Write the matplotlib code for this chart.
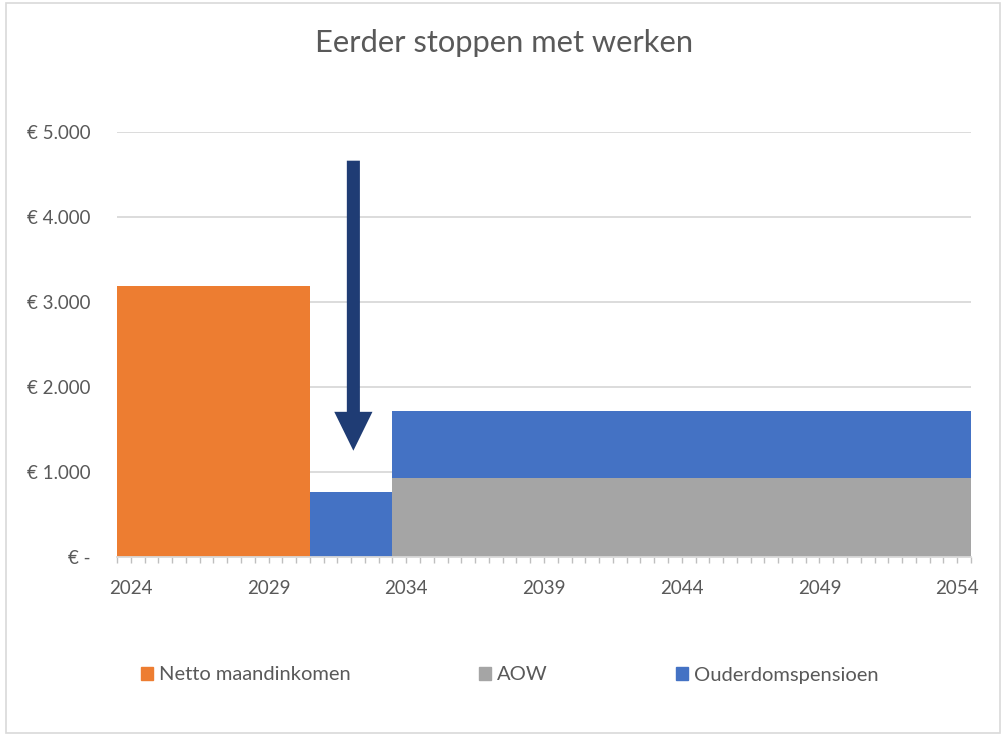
import matplotlib
matplotlib.use("Agg")
import matplotlib.pyplot as plt
from matplotlib.patches import Rectangle, Patch
from matplotlib.ticker import MultipleLocator

# ---- data ----
period_edges = [2023.5, 2030.5, 2033.5, 2054.5]   # half-year resolution periods
netto = [3190, 0, 0]          # Netto maandinkomen
aow = [0, 0, 937]             # AOW
pensioen = [0, 772, 784]      # Ouderdomspensioen
series_names = ["Netto maandinkomen", "AOW", "Ouderdomspensioen"]
x_labels = [2024, 2029, 2034, 2039, 2044, 2049, 2054]
y_ticks = [0, 1000, 2000, 3000, 4000, 5000]
y_labels = ["€ -", "€ 1.000", "€ 2.000", "€ 3.000", "€ 4.000", "€ 5.000"]
title = "Eerder stoppen met werken"

C_ORANGE = "#ED7D31"
C_GRAY = "#A5A5A5"
C_BLUE = "#4472C4"
C_ARROW = "#1F3C74"
TXT = "#595959"
GRID = "#D9D9D9"

plt.rcParams["font.family"] = ["Lato", "DejaVu Sans"]

W, H = 1003, 736
fig = plt.figure(figsize=(W / 100, H / 100), dpi=100)
fig.patches.append(Rectangle((6 / W, 3 / H), 994 / W, 730 / H, transform=fig.transFigure,
                             fill=False, edgecolor=GRID, linewidth=1.2))

ax = fig.add_axes([117 / W, (H - 557.3) / H, 854 / W, 425 / H])

lefts = period_edges[:-1]
widths = [b - a for a, b in zip(period_edges[:-1], period_edges[1:])]
bottom2 = [a + b for a, b in zip(netto, aow)]
ax.bar(lefts, netto, width=widths, align="edge", color=C_ORANGE, linewidth=0)
ax.bar(lefts, aow, width=widths, bottom=netto, align="edge", color=C_GRAY, linewidth=0)
ax.bar(lefts, pensioen, width=widths, bottom=bottom2, align="edge", color=C_BLUE, linewidth=0)

ax.set_xlim(period_edges[0], period_edges[-1])
ax.set_ylim(0, 5000)
ax.set_axisbelow(True)
ax.yaxis.grid(True, color=GRID, linewidth=1.3)
for s in ["top", "right", "left"]:
    ax.spines[s].set_visible(False)
ax.spines["bottom"].set_color(GRID)
ax.spines["bottom"].set_linewidth(1.3)

ax.set_yticks(y_ticks)
ax.set_yticklabels(y_labels)
ax.tick_params(axis="y", length=0, pad=19, labelsize=13.5, labelcolor=TXT)
ax.set_xticks(x_labels)
ax.set_xticklabels([str(v) for v in x_labels])
ax.xaxis.set_minor_locator(MultipleLocator(0.5))
ax.tick_params(axis="x", which="both", length=4, color="#BFBFBF", width=1,
               labelsize=13.5, labelcolor=TXT, pad=12)

# arrow annotation
ax.annotate("", xy=(2032.08, 1254), xytext=(2032.08, 4666),
            arrowprops=dict(arrowstyle="simple,head_length=2.8,head_width=2.75,tail_width=0.94",
                            mutation_scale=10, color=C_ARROW, lw=0, shrinkA=0, shrinkB=0))

fig.text(504 / W, 1 - 43 / H, title, ha="center", va="center", fontsize=22.2, color=TXT)

handles = [Patch(color=C_ORANGE), Patch(color=C_GRAY), Patch(color=C_BLUE)]
fig.legend(handles, series_names, loc="center", bbox_to_anchor=(510 / W, 1 - 675 / H),
           ncol=3, frameon=False, fontsize=14.5, labelcolor=TXT,
           handlelength=0.6, handleheight=0.6, handletextpad=0.3, columnspacing=6.35)

fig.savefig("out.png", dpi=100)
